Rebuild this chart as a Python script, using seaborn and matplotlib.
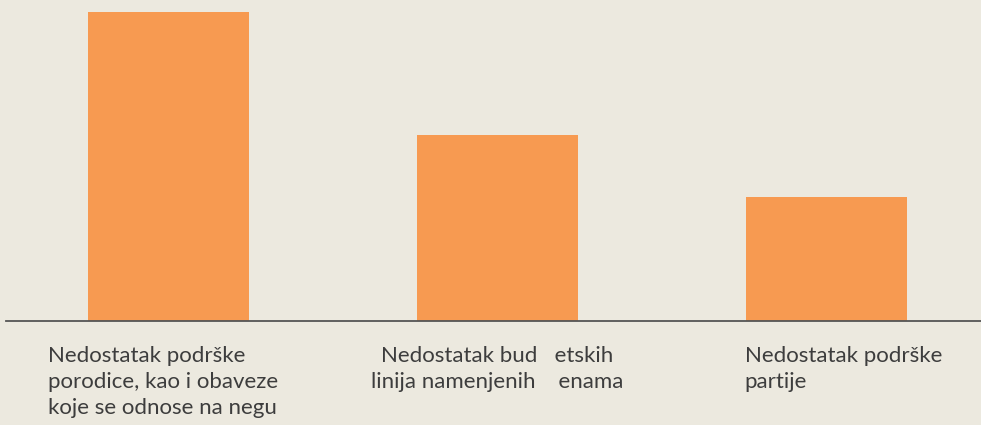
import matplotlib
matplotlib.use("Agg")
import matplotlib.pyplot as plt
import matplotlib.transforms as mtransforms
import seaborn as sns
import pandas as pd

kategorije = [
    "Nedostatak podrške\nporodice, kao i obaveze\nkoje se odnose na negu",
    "Nedostatak bud   etskih\nlinija namenjenih    enama",
    "Nedostatak podrške\npartije",
]
vrednosti = [50, 30, 20]

df = pd.DataFrame({"kategorija": kategorije, "vrednost": vrednosti})

sns.set_theme(style="white")
plt.rcParams["font.family"] = ["Lato", "DejaVu Sans"]

bg = "#ECE9DF"
fig, ax = plt.subplots(figsize=(9.81, 4.25), dpi=100)
fig.patch.set_facecolor(bg)
ax.set_facecolor(bg)

sns.barplot(data=df, x="kategorija", y="vrednost", color="#F79A51",
            saturation=1, width=0.49, linewidth=0, ax=ax)

ax.set_xlim(-0.495, 2.47)
ax.set_ylim(0, 50)
ax.set_xlabel("")
ax.set_ylabel("")
ax.set_yticks([])
for s in ["top", "right", "left"]:
    ax.spines[s].set_visible(False)
ax.spines["bottom"].set_color("#555555")
ax.spines["bottom"].set_linewidth(1.3)

ax.tick_params(axis="x", length=0, pad=18, labelsize=16, labelcolor="#3d3d3d")
aligns = ["left", "center", "left"]
pomaci = [-6, 0, 17]
for lbl, al, dx in zip(ax.get_xticklabels(), aligns, pomaci):
    lbl.set_multialignment(al)
    lbl.set_linespacing(1.38)
    lbl.set_verticalalignment("top")
    lbl.set_transform(lbl.get_transform() +
                      mtransforms.ScaledTranslation(dx / 100, 0, fig.dpi_scale_trans))

fig.subplots_adjust(left=0.006, right=1.0, top=0.972, bottom=0.245)
fig.savefig("out.png", dpi=100, facecolor=bg)
